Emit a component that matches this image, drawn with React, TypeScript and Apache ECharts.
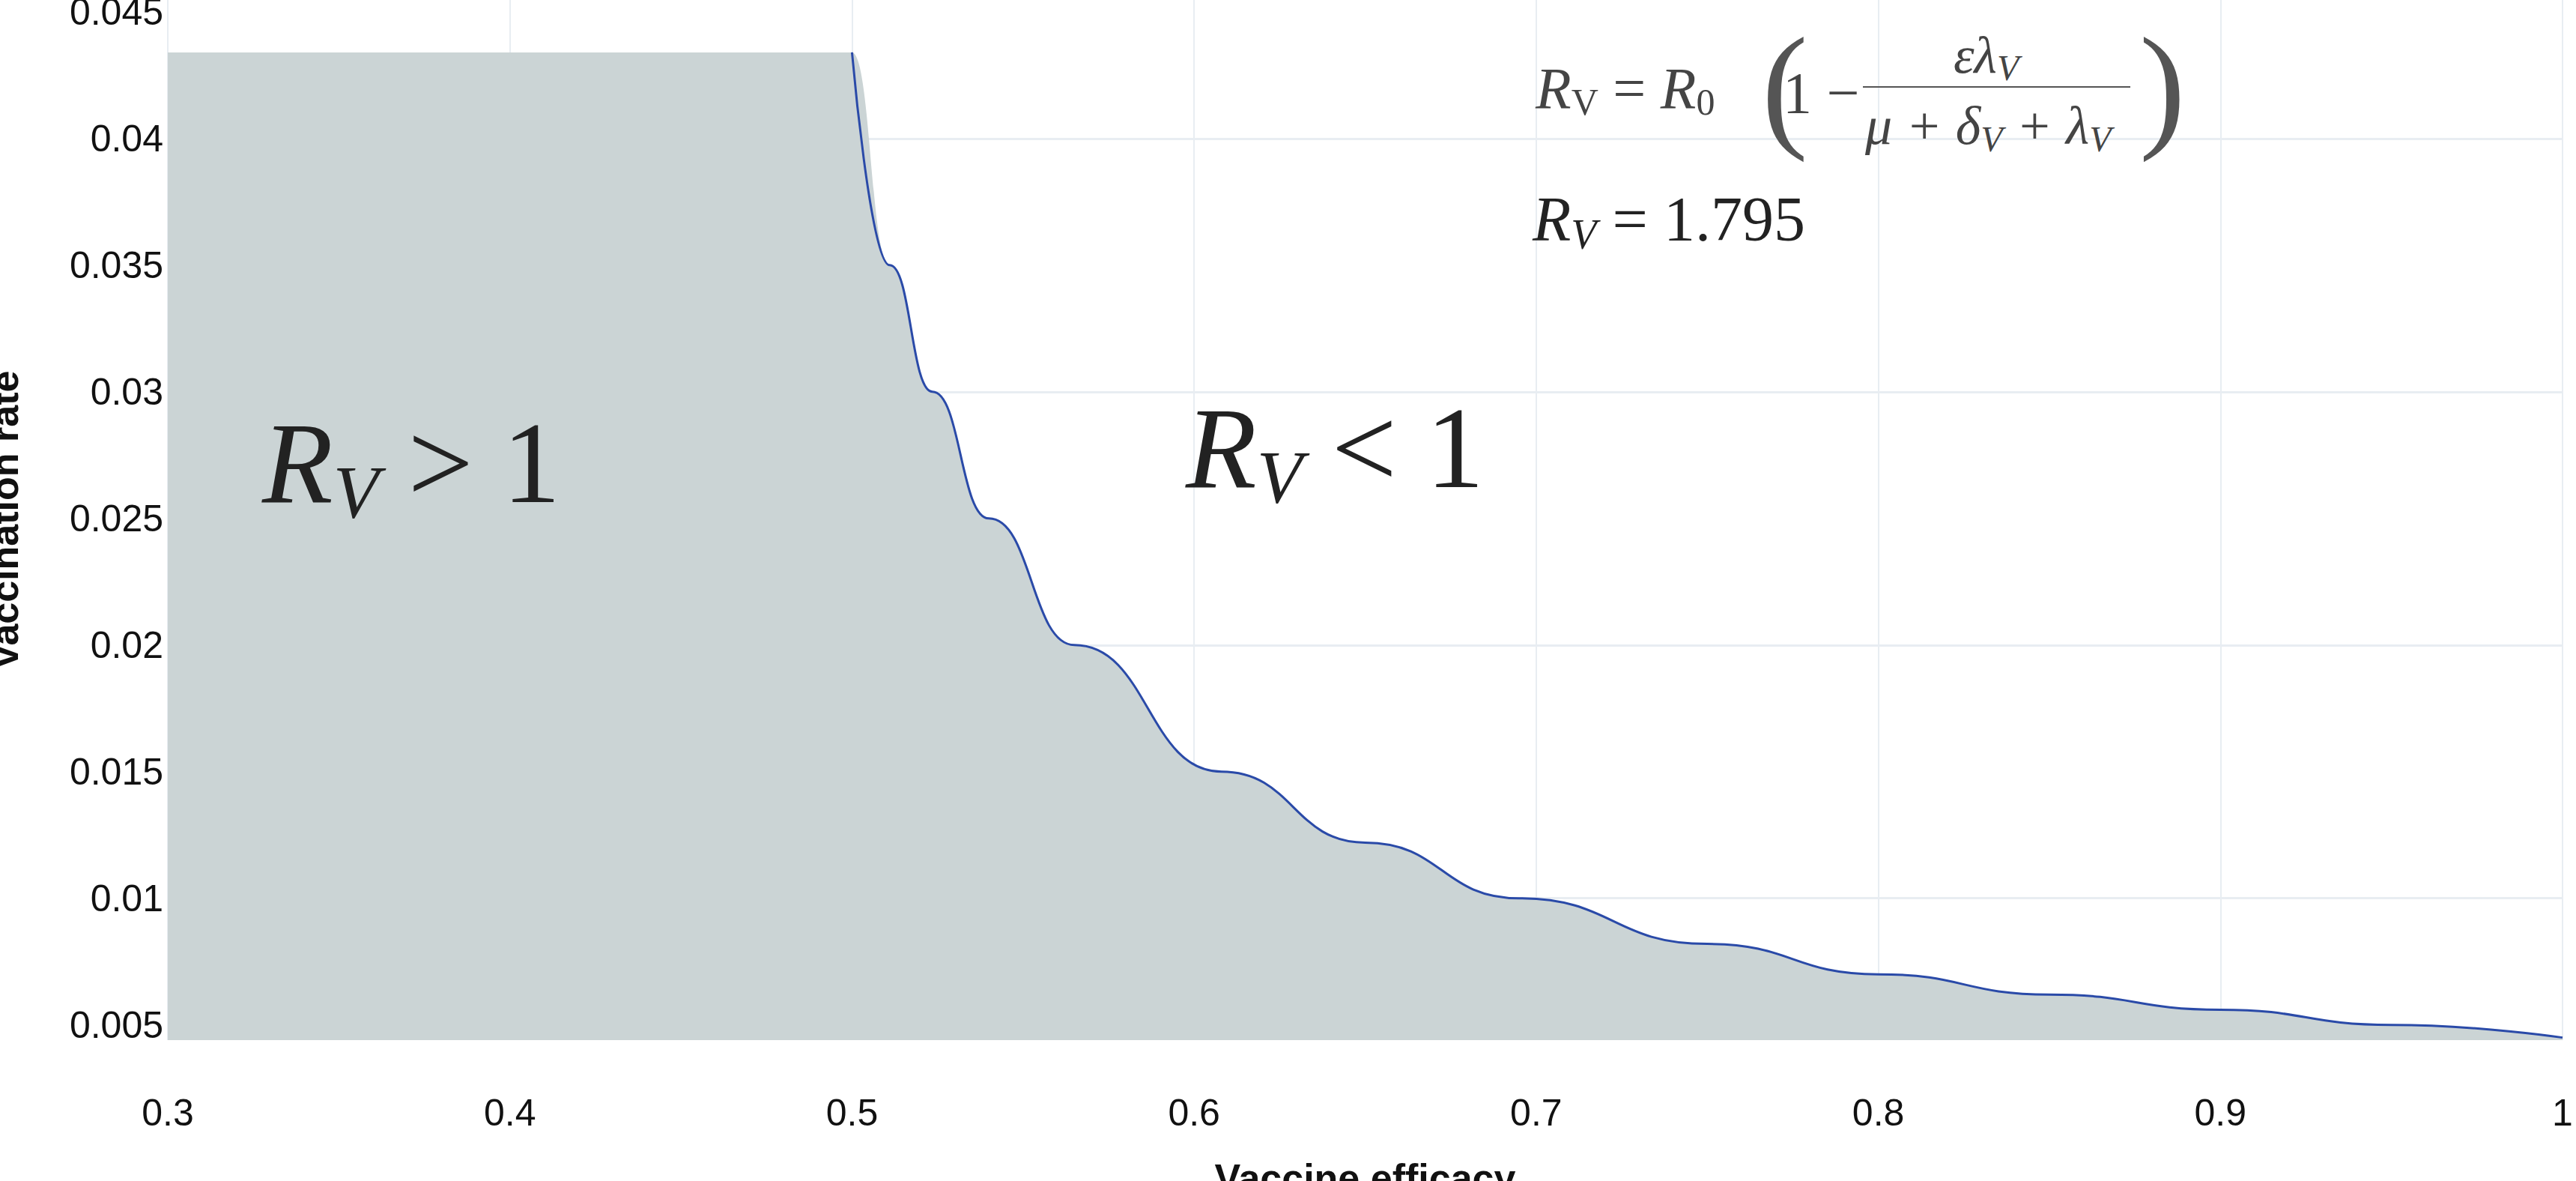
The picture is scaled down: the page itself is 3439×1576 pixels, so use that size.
import { useEffect, useRef } from "react";
import * as echarts from "echarts";

// curve R_V = 1: vaccine efficacy vs vaccination rate
const efficacy = [0.5, 0.511, 0.5235, 0.54, 0.565, 0.608, 0.65, 0.695, 0.75, 0.8, 0.85, 0.9, 0.95, 1.0];
const rate = [0.0434, 0.035, 0.03, 0.025, 0.02, 0.015, 0.0122, 0.01, 0.0082, 0.007, 0.0062, 0.0056, 0.005, 0.0045];
const yTicks = [0.005, 0.01, 0.015, 0.02, 0.025, 0.03, 0.035, 0.04, 0.045];
const flatStart = 0.3;

export default function App() {
  const ref = useRef<HTMLDivElement>(null);

  useEffect(() => {
    document.body.style.margin = "0";
    if (!ref.current) return;
    const chart = echarts.init(ref.current, null, { renderer: "svg" });
    const curve = efficacy.map((x, i) => [x, rate[i]]);
    const area = [[flatStart, rate[0]], ...curve];
    const fmt = (v: number) => String(Math.round(v * 1000) / 1000);
    const serif = "Liberation Serif";
    const mathStyle = { fontFamily: serif, fill: "#444" };
    const bigRich = {
      r: { fontFamily: serif, fontStyle: "italic", fontSize: 155, fill: "#222" },
      s: { fontFamily: serif, fontStyle: "italic", fontSize: 100, fill: "#222", padding: [78, 0, 0, 0] },
      o: { fontFamily: serif, fontSize: 155, fill: "#222" },
    };

    chart.setOption({
      animation: false,
      grid: { left: 224, right: 18, top: 0, bottom: 188, outerBoundsMode: "none", containLabel: false },
      xAxis: {
        type: "value",
        min: 0.3,
        max: 1,
        interval: 0.1,
        name: "Vaccine efficacy",
        nameLocation: "middle",
        nameGap: 158,
        nameTextStyle: { fontFamily: "Liberation Sans", fontWeight: "bold", fontSize: 52, color: "#111" },
        axisLine: { show: false },
        axisTick: { show: false },
        axisLabel: { fontFamily: "Liberation Sans", fontSize: 50, color: "#111", margin: 72, formatter: fmt },
        splitLine: { lineStyle: { color: "#e8edf2", width: 2 } },
      },
      yAxis: {
        type: "value",
        min: 0.0044,
        max: 0.04547,
        name: "Vaccination rate",
        nameLocation: "middle",
        nameGap: 192,
        nameTextStyle: { fontFamily: "Liberation Sans", fontWeight: "bold", fontSize: 52, color: "#111" },
        axisLine: { show: false },
        axisTick: { show: false },
        axisLabel: {
          fontFamily: "Liberation Sans",
          fontSize: 50,
          color: "#111",
          margin: 6,
          customValues: yTicks,
          formatter: fmt,
        },
        splitLine: { show: false },
      },
      series: [
        {
          type: "line",
          data: [],
          z: 1,
          markLine: {
            z: 1,
            silent: true,
            symbol: "none",
            label: { show: false },
            lineStyle: { color: "#e8edf2", width: 3, type: "solid" },
            data: yTicks.map((v) => ({ yAxis: v })),
          },
        },
        {
          type: "line",
          data: area,
          z: 10,
          symbol: "none",
          lineStyle: { width: 0 },
          smooth: true,
          smoothMonotone: "x",
          areaStyle: { color: "#cbd4d5", opacity: 1 },
        },
        {
          type: "line",
          data: curve,
          z: 11,
          symbol: "none",
          smooth: true,
          smoothMonotone: "x",
          lineStyle: { color: "#2a4aa8", width: 3 },
        },
      ],
      graphic: [
        { type: "text", id: "gt1", z: 100, left: 350, top: 540, style: { text: "{r|R}{s|V}{o| > 1}", rich: bigRich } },
        { type: "text", id: "lt1", z: 100, left: 1583, top: 520, style: { text: "{r|R}{s|V}{o| < 1}", rich: bigRich } },
        {
          type: "text",
          z: 100,
          left: 2050,
          top: 78,
          style: {
            text: "{r|R}{s|V}{o| = }{r|R}{s|0}",
            rich: {
              r: { ...mathStyle, fontStyle: "italic", fontSize: 78 },
              s: { ...mathStyle, fontSize: 50, padding: [38, 0, 0, 0] },
              o: { ...mathStyle, fontSize: 78 },
            },
          },
        },
        { type: "text", z: 100, left: 2352, top: 22, style: { ...mathStyle, text: "(", fontSize: 185, fill: "#555" } },
        { type: "text", z: 100, left: 2380, top: 84, style: { ...mathStyle, text: "1 −", fontSize: 78 } },
        {
          type: "text",
          z: 100,
          left: 2608,
          top: 38,
          style: {
            text: "{r|ελ}{s|V}",
            rich: {
              r: { ...mathStyle, fontStyle: "italic", fontSize: 70 },
              s: { ...mathStyle, fontStyle: "italic", fontSize: 48, padding: [34, 0, 0, 0] },
            },
          },
        },
        { type: "line", z: 100, shape: { x1: 2487, y1: 116, x2: 2844, y2: 116 }, style: { stroke: "#555", lineWidth: 2 } },
        {
          type: "text",
          z: 100,
          left: 2490,
          top: 132,
          style: {
            text: "{r|μ + δ}{s|V}{r| + λ}{s|V}",
            rich: {
              r: { ...mathStyle, fontStyle: "italic", fontSize: 72 },
              s: { ...mathStyle, fontStyle: "italic", fontSize: 48, padding: [34, 0, 0, 0] },
            },
          },
        },
        { type: "text", z: 100, left: 2856, top: 22, style: { ...mathStyle, text: ")", fontSize: 185, fill: "#555" } },
        {
          type: "text",
          z: 100,
          left: 2046,
          top: 250,
          style: {
            text: "{r|R}{s|V}{o| = 1.795}",
            rich: {
              r: { ...mathStyle, fontStyle: "italic", fontSize: 84, fill: "#222" },
              s: { ...mathStyle, fontStyle: "italic", fontSize: 56, fill: "#222", padding: [42, 0, 0, 0] },
              o: { ...mathStyle, fontSize: 84, fill: "#222" },
            },
          },
        },
      ],
    });

    return () => chart.dispose();
  }, []);

  return <div ref={ref} style={{ width: 3439, height: 1576 }} />;
}
